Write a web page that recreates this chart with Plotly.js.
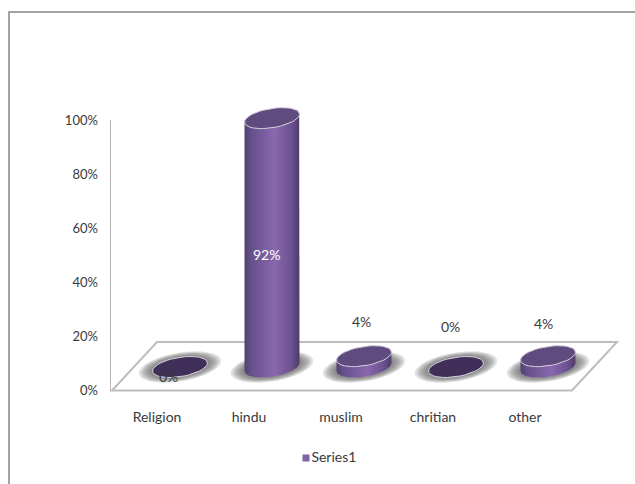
<!DOCTYPE html>
<html>
<head>
<meta charset="utf-8">
<script src="https://cdn.plot.ly/plotly-3.0.0.min.js"></script>
<style>html,body{margin:0;padding:0;background:#fff}#chart{width:635px;height:484px}</style>
</head>
<body>
<div id="chart"></div>
<script>
// Religion shares, in percent
const categories = ['Religion', 'hindu', 'muslim', 'chritian', 'other'];
const shares = [0, 92, 4, 0, 4];
const valueTicks = [0, 20, 40, 60, 80, 100];
const seriesName = 'Series1';

// Axis box in pixels; one category is 92 px wide, one percent is 2.705 px tall
const W = 635, H = 484;
const box = {l: 111, r: 571, t: 120, b: 390.5};
const pxX = (box.r - box.l) / categories.length;
const pxY = (box.b - box.t) / 100;

// Fake-3D floor depth and the place the cylinders stand on it
const depthX = 45, depthY = 48.5;
const standX = 23, standY = 23.5;
const radiusX = 27.5, radiusY = 9.7, skew = 4;

const FONT = 'Lato, "Open Sans", sans-serif';
const INK = '#3a3a3a';

// Pixel to axis-unit conversions, shared by the hidden full-page axes
const toCat = px => -0.5 + (px - box.l) / pxX;
const toVal = py => (box.b - py) / pxY;

// Tilted ellipse outline at height `value` of category `i`, following parameter t
function arc(i, value, from, to, scale) {
  const xs = [], ys = [], n = 40, s = scale || 1;
  for (let k = 0; k <= n; k++) {
    const t = from + (to - from) * k / n;
    xs.push(i + (standX + s * radiusX * Math.cos(t)) / pxX);
    ys.push(value + (standY + s * (skew * Math.cos(t) + radiusY * Math.sin(t))) / pxY);
  }
  return {xs, ys};
}
const TAU = Math.PI * 2;

const onPage = {xaxis: 'x2', yaxis: 'y2'};

// Empty trace that keeps the visible axes on the page
const traces = [{x: [null], y: [null], mode: 'markers', showlegend: false, hoverinfo: 'skip'}];

// Soft shadow pooled around each base
[1.5, 1.42, 1.34, 1.26, 1.18, 1.1].forEach(scale => {
  let xs = [], ys = [];
  shares.forEach((_, i) => {
    const e = arc(i, 0, 0, TAU, scale);
    xs = xs.concat(e.xs, [null]);
    ys = ys.concat(e.ys, [null]);
  });
  traces.push({...onPage, x: xs, y: ys, mode: 'lines', fill: 'toself',
    line: {width: 0, color: 'rgba(0,0,0,0)'}, fillcolor: 'rgba(95,95,95,0.18)',
    showlegend: false, hoverinfo: 'skip'});
});

// Cylinder bodies and their caps
shares.forEach((v, i) => {
  if (v > 0) {
    const low = arc(i, 0, Math.PI, TAU);
    const high = arc(i, v, 0, Math.PI);
    traces.push({...onPage, x: low.xs.concat(high.xs), y: low.ys.concat(high.ys),
      mode: 'lines', fill: 'toself',
      line: {width: 0, color: 'rgba(0,0,0,0)'},
      fillgradient: {type: 'horizontal', colorscale: [
        [0, '#54406f'], [0.12, '#66508a'], [0.55, '#8a67ae'], [0.85, '#6b5290'], [1, '#4e3b68']]},
      showlegend: false, hoverinfo: 'skip'});
  }
  const cap = arc(i, v, 0, TAU);
  traces.push({...onPage, x: cap.xs, y: cap.ys, mode: 'lines', fill: 'toself',
    line: {width: 1, color: '#d6d2dc'},
    fillcolor: v > 0 ? '#604b7f' : '#402f58',
    showlegend: false, hoverinfo: 'skip'});
});

// Legend key: a square swatch with the series name beside it
traces.push({...onPage, x: [toCat(306)], y: [toVal(458)], mode: 'markers+text',
  text: [seriesName], textposition: 'middle right',
  textfont: {family: FONT, size: 14, color: INK},
  marker: {symbol: 'square', size: 7, color: '#8064a2'},
  showlegend: false, hoverinfo: 'skip'});

// Value labels sit at hand-picked spots around the cylinders
const labelHeights = [5.3, 50.3, 25.6, 23.5, 24.6];
const labelShifts = [11, 17, 20, 17, 18];
const labelColors = [INK, '#ffffff', INK, INK, INK];
const annotations = shares.map((v, i) => ({
  x: i + labelShifts[i] / pxX, y: labelHeights[i], xref: 'x2', yref: 'y2',
  text: v + '%', showarrow: false,
  font: {family: FONT, size: 14, color: labelColors[i]}
}));

// Floor parallelogram, then the open outer frame
const x0 = -0.5 + 1 / pxX, x1 = categories.length - 0.5 + 1 / pxX;
const dx = depthX / pxX, dy = depthY / pxY;
const shapes = [
  {type: 'path', xref: 'x2', yref: 'y2', layer: 'below',
   path: `M${x0},0 L${x1},0 L${x1 + dx},${dy} L${x0 + dx},${dy} Z`,
   line: {color: '#bdbdbd', width: 2}, fillcolor: '#ffffff'},
  {type: 'path', xref: 'paper', yref: 'paper', layer: 'below',
   path: `M${9 / W},0 L${9 / W},${1 - 12 / H} L1,${1 - 12 / H}`,
   line: {color: '#a3a3a3', width: 2}}
];

const layout = {
  width: W, height: H, autosize: false,
  margin: {l: 0, r: 0, t: 0, b: 0, pad: 0},
  paper_bgcolor: '#ffffff', plot_bgcolor: 'rgba(0,0,0,0)',
  xaxis: {domain: [box.l / W, box.r / W], range: [-0.5, categories.length - 0.5],
    tickmode: 'array', tickvals: categories.map((_, i) => i), ticktext: categories,
    showgrid: false, zeroline: false, showline: false, ticks: '',
    ticklabelstandoff: 16, tickfont: {family: FONT, size: 14, color: INK}},
  yaxis: {domain: [1 - box.b / H, 1 - box.t / H], range: [0, 100],
    tickmode: 'array', tickvals: valueTicks, ticktext: valueTicks.map(v => v + '%'),
    showgrid: false, zeroline: false, showline: true, linecolor: '#b5b5b5', linewidth: 1.5,
    ticks: '', ticklabelstandoff: 9, tickfont: {family: FONT, size: 13, color: INK}},
  xaxis2: {domain: [0, 1], range: [toCat(0), toCat(W)], visible: false, anchor: 'y2', fixedrange: true},
  yaxis2: {domain: [0, 1], range: [toVal(H), toVal(0)], visible: false, anchor: 'x2', fixedrange: true},
  showlegend: false,
  shapes, annotations
};

Plotly.newPlot('chart', traces, layout, {displayModeBar: false, staticPlot: true});
</script>
</body>
</html>
